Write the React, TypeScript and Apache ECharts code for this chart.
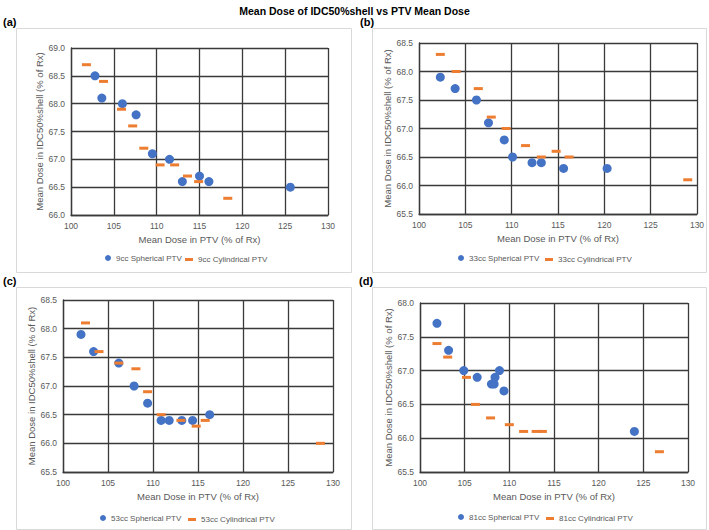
import React, { useEffect, useRef } from "react";
import * as echarts from "echarts";

const title = "Mean Dose of IDC50%shell vs PTV Mean Dose";
const panelLabels = ["(a)", "(b)", "(c)", "(d)"];
const volumes = ["9cc", "33cc", "53cc", "81cc"];
const xTitle = "Mean Dose in PTV (% of Rx)";
const yTitle = "Mean Dose in IDC50%shell (% of Rx)";
const xRange = [100, 130];
const xStep = 5;
const yMins = [66.0, 65.5, 65.5, 65.5];
const yMaxs = [69.0, 68.5, 68.5, 68.0];
const yStep = 0.5;

// (a) 9cc
const sphA_x = [102.8, 103.6, 106.0, 107.6, 109.5, 111.5, 113.0, 115.0, 116.1, 125.6];
const sphA_y = [68.5, 68.1, 68.0, 67.8, 67.1, 67.0, 66.6, 66.7, 66.6, 66.5];
const cylA_x = [101.8, 103.8, 105.9, 107.2, 108.5, 110.4, 112.1, 113.6, 114.9, 118.3];
const cylA_y = [68.7, 68.4, 67.9, 67.6, 67.2, 66.9, 66.9, 66.7, 66.6, 66.3];
// (b) 33cc
const sphB_x = [102.3, 103.9, 106.2, 107.5, 109.2, 110.1, 112.2, 113.2, 115.6, 120.3];
const sphB_y = [67.9, 67.7, 67.5, 67.1, 66.8, 66.5, 66.4, 66.4, 66.3, 66.3];
const cylB_x = [102.3, 104.0, 106.4, 107.8, 109.4, 111.5, 113.2, 114.8, 116.2, 129.0];
const cylB_y = [68.3, 68.0, 67.7, 67.2, 67.0, 66.7, 66.5, 66.6, 66.5, 66.1];
// (c) 53cc
const sphC_x = [102.0, 103.4, 106.2, 107.9, 109.4, 110.9, 111.8, 113.2, 114.4, 116.3];
const sphC_y = [67.9, 67.6, 67.4, 67.0, 66.7, 66.4, 66.4, 66.4, 66.4, 66.5];
const cylC_x = [102.5, 104.0, 106.2, 108.1, 109.4, 110.9, 113.1, 114.8, 115.8, 128.6];
const cylC_y = [68.1, 67.6, 67.4, 67.3, 66.9, 66.5, 66.4, 66.3, 66.4, 66.0];
// (d) 81cc
const sphD_x = [101.9, 103.2, 104.9, 106.4, 108.0, 108.3, 108.4, 108.9, 109.4, 124.0];
const sphD_y = [67.7, 67.3, 67.0, 66.9, 66.8, 66.8, 66.9, 67.0, 66.7, 66.1];
const cylD_x = [101.9, 103.1, 105.2, 106.2, 107.9, 110.0, 111.6, 113.0, 113.7, 126.8];
const cylD_y = [67.4, 67.2, 66.9, 66.5, 66.3, 66.2, 66.1, 66.1, 66.1, 65.8];

const sphX = [sphA_x, sphB_x, sphC_x, sphD_x];
const sphY = [sphA_y, sphB_y, sphC_y, sphD_y];
const cylX = [cylA_x, cylB_x, cylC_x, cylD_x];
const cylY = [cylA_y, cylB_y, cylC_y, cylD_y];

const FONT = "Liberation Sans, Arial, sans-serif";
const BLUE = "#4472C4";
const ORANGE = "#ED7D31";
const GRID = "#3a3a3a";
const TXT = "#595959";

// layout
const grids = [
  { left: 71, top: 48, width: 257, height: 167 },
  { left: 419, top: 43, width: 278, height: 171 },
  { left: 63, top: 300, width: 270, height: 172 },
  { left: 420, top: 303, width: 268, height: 169 },
];
const boxes = [
  { x: 16, y: 28, w: 335, h: 244 },
  { x: 372, y: 28, w: 334, h: 244 },
  { x: 16, y: 287, w: 335, h: 242 },
  { x: 372, y: 287, w: 334, h: 242 },
];
const labelPos = [
  { x: 3, y: 16 },
  { x: 360, y: 16 },
  { x: 3, y: 275 },
  { x: 359, y: 275 },
];
const legendSph = [
  { left: 105, top: 254 },
  { left: 458, top: 254 },
  { left: 100, top: 514 },
  { left: 458, top: 513 },
];
const legendCyl = [
  { left: 185, top: 254 },
  { left: 545, top: 254 },
  { left: 188, top: 514 },
  { left: 546, top: 513 },
];

export default function App() {
  const ref = useRef<HTMLDivElement>(null);
  useEffect(() => {
    document.body.style.margin = "0";
    const chart = echarts.init(ref.current!, undefined, { renderer: "svg" });
    const xAxis: any[] = [];
    const yAxis: any[] = [];
    const series: any[] = [];
    const legend: any[] = [];
    const legendText = { color: TXT, fontSize: 8, fontFamily: FONT };
    for (let i = 0; i < 4; i++) {
      xAxis.push({
        type: "value",
        gridIndex: i,
        min: xRange[0],
        max: xRange[1],
        interval: xStep,
        name: xTitle,
        nameLocation: "middle",
        nameGap: 19,
        nameTextStyle: { color: TXT, fontSize: 9.5, fontFamily: FONT },
        axisLine: { show: true, lineStyle: { color: GRID, width: 1.3 } },
        axisTick: { show: false },
        axisLabel: { color: TXT, fontSize: 8.5, fontFamily: FONT, margin: 6 },
        splitLine: { show: true, lineStyle: { color: GRID, width: 1.3 } },
      });
      yAxis.push({
        type: "value",
        gridIndex: i,
        min: yMins[i],
        max: yMaxs[i],
        interval: yStep,
        name: yTitle,
        nameLocation: "middle",
        nameGap: 26,
        nameTextStyle: { color: TXT, fontSize: 9.5, fontFamily: FONT },
        axisLine: { show: true, lineStyle: { color: GRID, width: 1.3 } },
        axisTick: { show: false },
        axisLabel: {
          color: TXT,
          fontSize: 8.5,
          fontFamily: FONT,
          margin: 6,
          formatter: (v: number) => v.toFixed(1),
        },
        splitLine: { show: true, lineStyle: { color: GRID, width: 1.3 } },
      });
      const sName = `${volumes[i]} Spherical PTV`;
      const cName = `${volumes[i]} Cylindrical PTV`;
      series.push({
        type: "scatter",
        name: sName,
        xAxisIndex: i,
        yAxisIndex: i,
        symbol: "circle",
        symbolSize: 9,
        itemStyle: { color: BLUE, opacity: 1 },
        data: sphX[i].map((x, j) => [x, sphY[i][j]]),
        z: 3,
      });
      series.push({
        type: "scatter",
        name: cName,
        xAxisIndex: i,
        yAxisIndex: i,
        symbol: "rect",
        symbolSize: [9, 3],
        itemStyle: { color: ORANGE, opacity: 1 },
        data: cylX[i].map((x, j) => [x, cylY[i][j]]),
        z: 4,
      });
      legend.push({
        data: [{ name: sName, icon: "circle", itemStyle: { color: BLUE } }],
        left: legendSph[i].left,
        top: legendSph[i].top,
        itemWidth: 6,
        itemHeight: 6,
        itemGap: 0,
        textStyle: legendText,
        selectedMode: false,
        padding: 0,
      });
      legend.push({
        data: [{ name: cName, icon: "rect", itemStyle: { color: ORANGE } }],
        left: legendCyl[i].left,
        top: legendCyl[i].top + 1.5,
        itemWidth: 8,
        itemHeight: 3,
        itemGap: 0,
        textStyle: legendText,
        selectedMode: false,
        padding: 0,
      });
    }
    const graphic: any[] = [];
    boxes.forEach((b) =>
      graphic.push({
        type: "rect",
        shape: { x: b.x + 0.5, y: b.y + 0.5, width: b.w, height: b.h },
        style: { fill: "#fff", stroke: "#d9d9d9", lineWidth: 1 },
        z: -10,
        silent: true,
      })
    );
    panelLabels.forEach((t, i) =>
      graphic.push({
        type: "text",
        x: labelPos[i].x,
        y: labelPos[i].y,
        style: { text: t, fontSize: 11, fontWeight: "bold", fontFamily: FONT, fill: "#000" },
      })
    );
    chart.setOption({
      animation: false,
      backgroundColor: "#fff",
      title: {
        text: title,
        left: "center",
        top: 0,
        textStyle: { fontSize: 10.5, fontWeight: "bold", fontFamily: FONT, color: "#000" },
      },
      grid: grids.map((g) => ({ ...g, containLabel: false })),
      xAxis,
      yAxis,
      series,
      legend,
      graphic,
    });
    return () => chart.dispose();
  }, []);
  return <div ref={ref} style={{ width: 709, height: 530 }} />;
}
